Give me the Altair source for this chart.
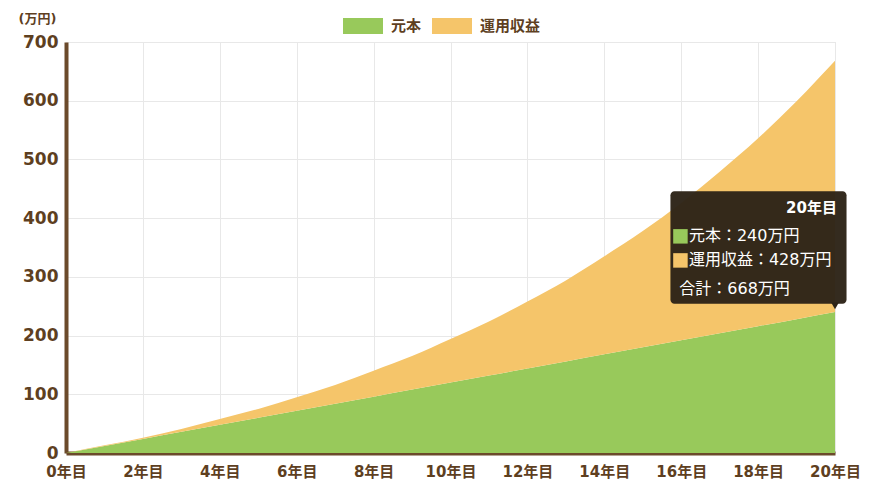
import altair as alt
import pandas as pd

years = list(range(0, 21))
principal = [0, 12, 24, 36, 48, 60, 72, 84, 96, 108, 120, 132, 144, 156, 168, 180, 192, 204, 216, 228, 240]
gains = [0, 1, 2, 5, 10, 15, 23, 32, 44, 57, 74, 92, 114, 138, 167, 198, 234, 275, 320, 371, 428]
series_names = ["元本", "運用収益"]
series_colors = ["#98c95b", "#f5c56a"]

rows = []
for y, p, g in zip(years, principal, gains):
    rows.append({"year": y, "series": series_names[0], "value": p, "order": 0})
    rows.append({"year": y, "series": series_names[1], "value": g, "order": 1})
df = pd.DataFrame(rows)

FONT = "DejaVu Sans, Noto Sans CJK JP"
BROWN = "#6b4a2b"
LABEL = "#5e3f1f"

area = alt.Chart(df).mark_area(interpolate="monotone", opacity=1).encode(
    x=alt.X("year:Q", scale=alt.Scale(domain=[0, 20], nice=False),
            axis=alt.Axis(values=list(range(0, 21, 2)), labelExpr="datum.value + '年目'",
                          title=None, grid=True, gridColor="#e8e8e8", ticks=False,
                          domainColor=BROWN, domainWidth=4, labelColor=LABEL,
                          labelFont=FONT, labelFontSize=15, labelFontWeight="bold",
                          labelPadding=11, labelFlush=False)),
    y=alt.Y("value:Q", stack="zero", scale=alt.Scale(domain=[0, 700], nice=False),
            axis=alt.Axis(values=list(range(0, 701, 100)), title="(万円)", titleAngle=0,
                          titleAlign="left", titleX=-48, titleY=-17, titleFont=FONT,
                          titleFontSize=13, titleFontWeight="bold", titleColor=LABEL,
                          grid=True, gridColor="#e8e8e8", ticks=False,
                          domainColor=BROWN, domainWidth=4, labelColor=LABEL,
                          labelFont=FONT, labelFontSize=17, labelFontWeight="bold",
                          labelPadding=8)),
    color=alt.Color("series:N", scale=alt.Scale(domain=series_names, range=series_colors),
                    legend=alt.Legend(orient="none", legendX=277, legendY=-36, direction="horizontal",
                                      title=None, symbolType="M-1,-0.4L1,-0.4L1,0.4L-1,0.4Z",
                                      symbolSize=1600, symbolStrokeWidth=0, symbolOpacity=1,
                                      labelFont=FONT, labelFontSize=15, labelFontWeight="bold",
                                      labelColor=LABEL, columnPadding=10, labelOffset=8)),
    order=alt.Order("order:Q"),
)

# tooltip annotation for year 20
tip_year = 20
tip_p = principal[-1]
tip_g = gains[-1]
tip_total = tip_p + tip_g

box_df = pd.DataFrame([{"x": 15.72, "x2": 20.3, "y": 446, "y2": 254}])
box = alt.Chart(box_df).mark_rect(color="#2d2418", cornerRadius=4, opacity=0.97).encode(
    x="x:Q", x2="x2:Q", y="y:Q", y2="y2:Q")

ptr_df = pd.DataFrame([{"x": tip_year, "y": 254}])
ptr = alt.Chart(ptr_df).mark_point(shape="triangle-down", filled=True, color="#2d2418",
                                   size=60, opacity=1, yOffset=2).encode(x="x:Q", y="y:Q")

sw_df = pd.DataFrame([{"x": 15.98, "y": 369, "c": series_colors[0]},
                      {"x": 15.98, "y": 328, "c": series_colors[1]}])
sw = alt.Chart(sw_df).mark_square(size=210, filled=True, opacity=1).encode(
    x="x:Q", y="y:Q", color=alt.Color("c:N", scale=None))

head = alt.Chart(pd.DataFrame([{"x": 20.05, "y": 417, "t": f"{tip_year}年目"}])).mark_text(
    align="right", baseline="middle", font=FONT, fontSize=15, fontWeight="bold", color="white"
).encode(x="x:Q", y="y:Q", text="t:N")

lines_df = pd.DataFrame([
    {"x": 16.2, "y": 369, "t": f"元本：{tip_p}万円"},
    {"x": 16.2, "y": 328, "t": f"運用収益：{tip_g}万円"},
    {"x": 15.95, "y": 279, "t": f"合計：{tip_total}万円"},
])
lines = alt.Chart(lines_df).mark_text(
    align="left", baseline="middle", font=FONT, fontSize=16, color="white"
).encode(x="x:Q", y="y:Q", text="t:N")

chart = alt.layer(area, box, ptr, sw, head, lines).properties(
    width=769, height=411,
    autosize=alt.AutoSizeParams(type="none"),
    padding={"left": 58, "top": 34, "right": 26, "bottom": 40},
).configure_view(stroke=None).configure(background="white")

chart.save("out.html", embed_options={"renderer": "svg", "actions": False})
